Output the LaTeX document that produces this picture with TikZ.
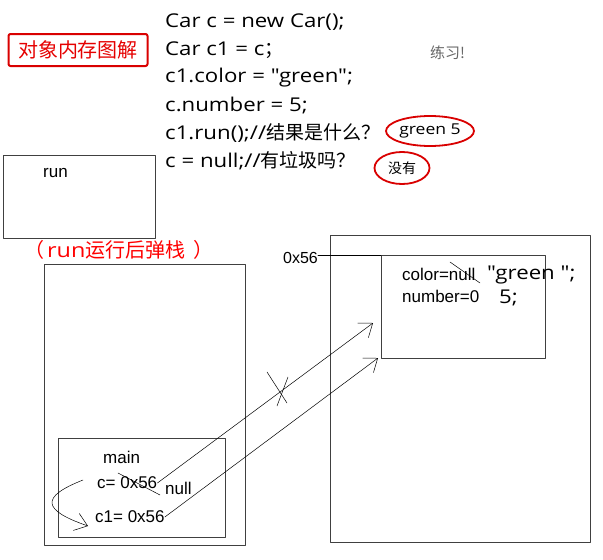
\documentclass[tikz,border=0pt]{standalone}
\usepackage{fontspec}
\setmainfont{Liberation Sans}
\newfontfamily\codefont{Open Sans}[FakeStretch=1.17, Ligatures=TeXOff]
\newfontfamily\cjk{Noto Sans CJK SC}
\usetikzlibrary{arrows.meta,shapes.geometric}

\begin{document}
\begin{tikzpicture}[x=1pt, y=-1pt, line cap=round, line join=round,
    box/.style={draw=black!75, line width=0.8pt, inner sep=0pt, outer sep=0pt, anchor=north west},
    code/.style={anchor=west, inner sep=0pt, font=\codefont\fontsize{19}{21}\selectfont},
    small/.style={anchor=west, inner sep=0pt, font=\fontsize{17}{19}\selectfont},
    redmark/.style={draw=red!85!black, line width=1.8pt, ellipse, inner sep=0pt},
    ptr/.style={line width=0.5pt, -{Straight Barb[length=12pt,width=18pt]}}]

    \useasboundingbox (0,0) rectangle (603,560);

    % Title
    \node[draw=red!85!black, line width=2pt, rounded corners=2pt, minimum width=139pt, minimum height=32pt,
        text=red!90!black, font=\cjk\fontsize{20}{22}\selectfont] (title) at (78,50) {对象内存图解};

    % Code of the exercise
    \node[code] (line1) at (165,22) {Car c = new Car();};
    \node[code] (line2) at (165,50) {Car c1 = c{\cjk ；}};
    \node[code] (line3) at (165,78) {c1.color = "green";};
    \node[code] (line4) at (165,106) {c.number = 5;};
    \node[code] (line5) at (165,133) {c1.run();//{\cjk 结果是什么？}};
    \node[code] (line6) at (165,161) {c = null;//{\cjk 有垃圾吗？}};
    \node[small, text=black!60, font=\cjk\fontsize{15}{17}\selectfont] (practice) at (430,53) {练习!};

    % Answers
    \node[redmark, minimum width=88pt, minimum height=30pt, font=\codefont\fontsize{15}{17}\selectfont] (answer1) at (430,131) {green 5};
    \node[redmark, minimum width=55pt, minimum height=32pt, font=\cjk\fontsize{14}{16}\selectfont] (answer2) at (402,168) {没有};

    % Frame of run, popped
    \node[box, minimum width=152pt, minimum height=83pt] (runframe) at (3,155) {};
    \node[small] (runlabel) at (43,173) {run};
    \node[code, text=red, font=\codefont\fontsize{20}{22}\selectfont] (popped) at (24,250) {{\cjk （}\hspace{3pt}run{\cjk 运行后弹栈}\hspace{8pt}{\cjk ）}};

    % Stack with the main frame
    \node[box, minimum width=201pt, minimum height=281pt] (stack) at (44,264) {};
    \node[box, minimum width=167pt, minimum height=99pt] (mainframe) at (58,438) {};
    \node[small] (mainlabel) at (103,457) {main};
    \node[small] (cvar) at (97,483) {c= 0x56};
    \node[small] (nullval) at (165,488) {null};
    \node[small] (cvarone) at (95,517) {c1= 0x56};

    % Heap with the Car object
    \node[box, minimum width=260pt, minimum height=307pt] (heap) at (330,235) {};
    \node[box, minimum width=164pt, minimum height=103pt] (obj) at (381,255) {};
    \node[small, anchor=east, font=\fontsize{16}{18}\selectfont] (addr) at (318,258) {0x56};
    \node[small] (colorfield) at (402,274) {color=null};
    \node[small] (numberfield) at (402,296) {number=0};
    \node[code] (greenval) at (487,275) {"green ";};
    \node[code] (fiveval) at (499,298) {5;};
    \draw[line width=0.6pt] (addr.east |- obj.north) -- (obj.north west);

    % Crossed-out values
    \draw[line width=0.5pt] (118,473) -- (160,495);
    \draw[line width=0.5pt] (450,262) -- (480,283);

    % References to the object
    \coordinate (tipc) at (373,323);
    \draw[ptr] (cvar.east) -- (tipc);
    \draw[ptr] (cvarone.east) -- ([shift={(-3,0)}]obj.south west);
    \draw[line width=0.5pt] (267,372) -- (287,403);
    \draw[line width=0.5pt] (277,406) -- (288,377);

    % c1 = c
    \draw[ptr] ([shift={(-14,-3)}]cvar.west) .. controls (40,497) and (42,510) .. ([shift={(-7,9)}]cvarone.west);

\end{tikzpicture}
\end{document}
